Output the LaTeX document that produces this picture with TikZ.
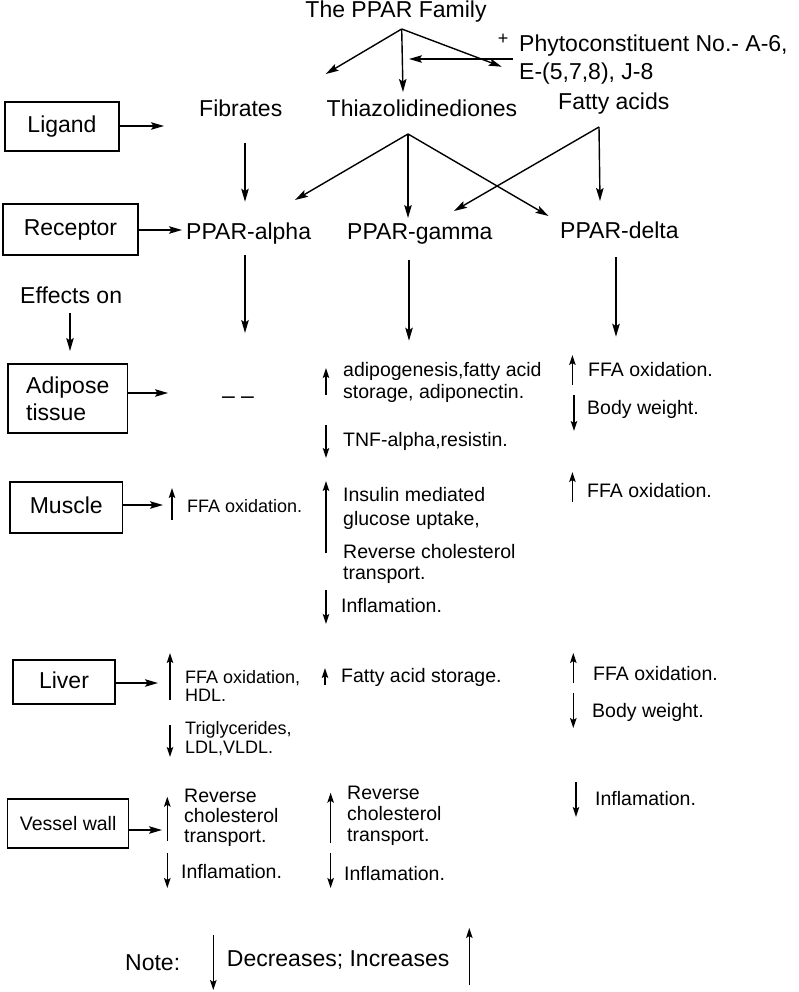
\documentclass[tikz,border=0pt]{standalone}
\usepackage{fontspec}
\setmainfont{Liberation Sans}
\usetikzlibrary{arrows.meta}
\newcommand\effarrow[4]{%
  \coordinate (#1t) at (#2,#3);
  \coordinate (#1h) at (#2,#4);
  \draw[arr] (#1t) -- (#1h);}
\begin{document}
\begin{tikzpicture}[x=1pt,y=-1pt,
  big/.style={font=\fontsize{23}{27}\selectfont, inner sep=0pt, anchor=base west},
  med/.style={font=\fontsize{19.5}{21}\selectfont, inner sep=0pt, anchor=base west},
  sml/.style={font=\fontsize{18}{20}\selectfont, inner sep=0pt, anchor=base west},
  box/.style={draw, line width=1.4pt, inner sep=0pt, align=left,
    font=\fontsize{23}{27}\selectfont},
  arr/.style={line width=1.4pt, -{Stealth[length=10pt,width=6.5pt,inset=2pt]}},
  bigarr/.style={line width=1.4pt, -{Stealth[length=13pt,width=7.5pt,inset=2.5pt]}}
]
\useasboundingbox (0,0) rectangle (799,992);

% ---------- top ----------
\node[big, anchor=base] (family) at (396,18) {The PPAR Family};
\coordinate (famapex) at (401.7,29);
\coordinate (famL) at (325.7,74);
\coordinate (famD) at (403,92);
\coordinate (famR) at (501.7,66.7);
\draw[bigarr] (famapex) -- (famL);
\draw[bigarr] (famapex) -- (famD);
\draw[bigarr] (famapex) -- (famR);

\node[big, anchor=center, font=\fontsize{18}{18}\selectfont] (plus) at (503,39) {+};
\node[big] (phyto1) at (519,51.7) {Phytoconstituent No.- A-6,};
\node[big] (phyto2) at (519,79.3) {E-(5,7,8), J-8};
\coordinate (phytoT) at (513,59);
\coordinate (phytoH) at (409,59);
\draw[bigarr] (phytoT) -- (phytoH);

\node[big] (fibrates) at (199,116.7) {Fibrates};
\node[big, anchor=base] (thiazol) at (422,117) {Thiazolidinediones};
\node[big] (fatty) at (558,110) {Fatty acids};

% ---------- ligand / receptor ----------
\node[box, minimum width=114pt, minimum height=49pt, text height=16pt, text depth=4pt] (ligand) at (62,126.5) {Ligand};
\coordinate (ligH) at (164,126);
\draw[bigarr] (ligand.east |- ligH) -- (ligH);

\coordinate (fibT) at (245,143);
\coordinate (fibH) at (245,201.7);
\draw[bigarr] (fibT) -- (fibH);
\coordinate (thzApex) at (408,134);
\coordinate (thzA) at (295,200);
\coordinate (thzG) at (408,218);
\coordinate (thzD) at (548.5,216);
\draw[bigarr] (thzApex) -- (thzA);
\draw[bigarr] (thzApex) -- (thzG);
\draw[bigarr] (thzApex) -- (thzD);
\coordinate (fatApex) at (599,127);
\coordinate (fatG) at (454,211);
\coordinate (fatD) at (600,201);
\draw[bigarr] (fatApex) -- (fatG);
\draw[bigarr] (fatApex) -- (fatD);

\node[box, minimum width=135pt, minimum height=51pt, text height=16pt, text depth=4pt] (receptor) at (70.5,229.5) {Receptor};
\coordinate (recH) at (182,230);
\draw[bigarr] (receptor.east |- recH) -- (recH);

\node[big] (palpha) at (186,240) {PPAR-alpha};
\node[big] (pgamma) at (347,240) {PPAR-gamma};
\node[big] (pdelta) at (560,238) {PPAR-delta};

\node[big] (effects) at (20,303) {Effects on};
\coordinate (efft) at (70,313);
\coordinate (effh) at (70,351);
\draw[bigarr] (efft) -- (effh);
\coordinate (pat) at (245,255);
\coordinate (pah) at (245,333);
\draw[bigarr] (pat) -- (pah);
\coordinate (pgt) at (409,260);
\coordinate (pgh) at (409,340.7);
\draw[bigarr] (pgt) -- (pgh);
\coordinate (pdt) at (616,257);
\coordinate (pdh) at (616,336.7);
\draw[bigarr] (pdt) -- (pdh);

% ---------- adipose tissue ----------
\node[box, minimum width=119.5pt, minimum height=69pt] (adipose) at (67.75,398.5) {Adipose\\tissue};
\coordinate (adiH) at (168,393);
\draw[bigarr] (adipose.east |- adiH) -- (adiH);
\node[big, anchor=base] (nodash) at (238,403) {– –};

\effarrow{gad}{326}{395}{368}
\node[med] (gad1) at (343,376.7) {adipogenesis,fatty acid};
\node[med] (gad2) at (343,398) {storage, adiponectin.};
\effarrow{gtnf}{326}{425}{458}
\node[med] (gtnf1) at (343,446.7) {TNF-alpha,resistin.};

\effarrow{dad}{572.4}{385}{355}
\node[med] (dad1) at (588,376.7) {FFA oxidation.};
\effarrow{dbw}{574}{395}{431}
\node[med] (dbw1) at (587,414) {Body weight.};

% ---------- muscle ----------
\node[box, minimum width=112.5pt, minimum height=51pt, text height=16pt, text depth=4pt] (muscle) at (66.25,507.5) {Muscle};
\coordinate (musH) at (163,505);
\draw[bigarr] (muscle.east |- musH) -- (musH);
\effarrow{amu}{172}{520}{488}
\node[sml] (amu1) at (187,512.7) {FFA oxidation.};

\effarrow{gmu}{326}{553}{481}
\node[med] (gmu1) at (343,501.7) {Insulin mediated};
\node[med] (gmu2) at (343,525) {glucose uptake,};
\node[med] (gmu3) at (343,558) {Reverse cholesterol};
\node[med] (gmu4) at (343,579) {transport.};
\effarrow{ginf}{326}{590}{624}
\node[med] (ginf1) at (341,612.7) {Inflamation.};

\effarrow{dmu}{572.4}{502}{472}
\node[med] (dmu1) at (587,497) {FFA oxidation.};

% ---------- liver ----------
\node[box, minimum width=102pt, minimum height=44pt, text height=16pt, text depth=4pt] (liver) at (64,682) {Liver};
\coordinate (livH) at (158,683);
\draw[bigarr] (liver.east |- livH) -- (livH);
\effarrow{ali}{170}{700}{653}
\node[sml] (ali1) at (185,683) {FFA oxidation,};
\node[sml] (ali2) at (185,701) {HDL.};
\effarrow{atg}{170}{725}{757}
\node[sml] (atg1) at (185,734) {Triglycerides,};
\node[sml] (atg2) at (185,753) {LDL,VLDL.};

\effarrow{gli}{325}{685}{668}
\node[med] (gli1) at (341,682.7) {Fatty acid storage.};

\effarrow{dli}{573.3}{683}{653}
\node[med] (dli1) at (593,680) {FFA oxidation.};
\effarrow{dlw}{573.3}{693}{728}
\node[med] (dlw1) at (592,717) {Body weight.};

% ---------- vessel wall ----------
\node[box, minimum width=121pt, minimum height=49pt, font=\fontsize{19.5}{21}\selectfont] (vessel) at (68.2,823.5) {Vessel wall};
\coordinate (vesH) at (162,830);
\draw[bigarr] (vessel.east |- vesH) -- (vesH);
\effarrow{ave}{167.3}{840.7}{796.7}
\node[med] (ave1) at (184,802) {Reverse};
\node[med] (ave2) at (184,822) {cholesterol};
\node[med] (ave3) at (184,842) {transport.};
\effarrow{avi}{167.3}{853}{888}
\node[med] (avi1) at (181,878) {Inflamation.};

\effarrow{gve}{330.6}{842.7}{792.7}
\node[med] (gve1) at (347,799) {Reverse};
\node[med] (gve2) at (347,820) {cholesterol};
\node[med] (gve3) at (347,841) {transport.};
\effarrow{gvi}{330.6}{853}{888}
\node[med] (gvi1) at (344,880) {Inflamation.};

\effarrow{dvi}{576}{782}{817}
\node[med] (dvi1) at (595,805) {Inflamation.};

% ---------- note ----------
\node[big] (note) at (125,970) {Note:};
\effarrow{ndec}{213.3}{935}{990}
\node[big] (notetxt) at (226.7,966.7) {Decreases; Increases};
\effarrow{ninc}{469.3}{985}{928}
\end{tikzpicture}
\end{document}
